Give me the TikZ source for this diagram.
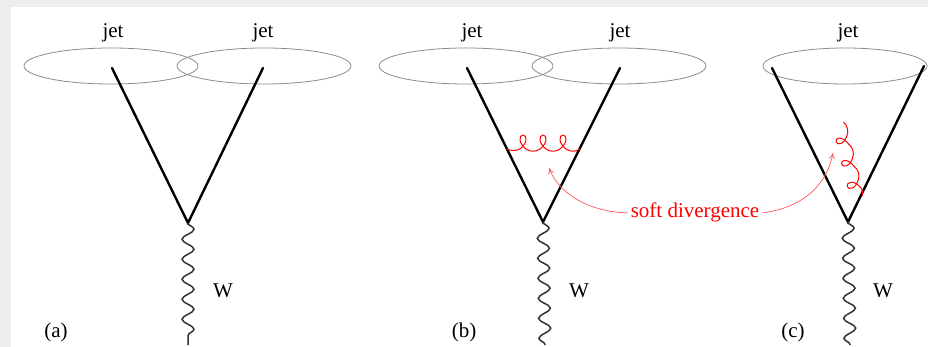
\documentclass[tikz,border=0pt]{standalone}
\usepackage{fontspec}
\setmainfont{Liberation Serif}
\usetikzlibrary{decorations.pathmorphing,arrows.meta}
\begin{document}
\begin{tikzpicture}[x=1pt,y=-1pt,
  quark/.style={line width=2.4pt, black, line cap=round},
  boson/.style={line width=1.5pt, black!80, decorate, decoration={snake, amplitude=6pt, segment length=20pt}},
  jetcone/.style={draw=black!45, line width=0.8pt},
  gluonline/.style={red, line width=1pt, line join=round},
  lbl/.style={font=\fontsize{21}{24}\selectfont, text=black, inner sep=0pt},
  note/.style={-{To[length=6pt,width=6pt]}, red!65, line width=0.7pt}
]
\fill[black!7] (0,0) rectangle (928,347);
\fill[white] (11,7) rectangle (928,347);
\useasboundingbox (0,0) rectangle (928,347);

% panel (a)
\draw[jetcone] (111,66) ellipse [x radius=87pt, y radius=18pt];
\draw[jetcone] (264,66) ellipse [x radius=87pt, y radius=18pt];
\node[lbl, anchor=base] (jetA1) at (113,38) {jet};
\node[lbl, anchor=base] (jetA2) at (263,38) {jet};
\coordinate (vA) at (188,223);
\coordinate (qA1) at (112,68);
\coordinate (qA2) at (263,68);
\coordinate (wA) at (188,345);
\draw[quark] (qA1) -- (vA) -- (qA2);
\draw[boson] (vA) -- (wA);
\node[lbl, anchor=base] (WA) at (223,297) {W};
\node[lbl, anchor=base] (labA) at (56,337) {(a)};

% panel (b)
\draw[jetcone] (466,66) ellipse [x radius=87pt, y radius=18pt];
\draw[jetcone] (619,66) ellipse [x radius=87pt, y radius=18pt];
\node[lbl, anchor=base] (jetB1) at (472,38) {jet};
\node[lbl, anchor=base] (jetB2) at (620,38) {jet};
\coordinate (vB) at (543,222);
\coordinate (qB1) at (467,68);
\coordinate (qB2) at (620,68);
\coordinate (wB) at (545,345);
\draw[quark] (qB1) -- (vB) -- (qB2);
\draw[boson] (vB) -- (wB);
\node[lbl, anchor=base] (WB) at (579,297) {W};
\node[lbl, anchor=base] (labB) at (464,337) {(b)};
\begin{scope}[shift={(507,149)}]
  \draw[gluonline] (0,0) .. controls (4,2) and (9,2) .. (13,0)
    \foreach \c in {16,36,56} { .. controls (\c+5,-6) and (\c+4,-14) .. (\c,-14)
      .. controls (\c-4,-14) and (\c-5,-6) .. (\c+3,0)
      .. controls (\c+7,3) and (\c+13,3) .. (\c+17,0) };
\end{scope}

% panel (c)
\draw[jetcone] (845,66) ellipse [x radius=82pt, y radius=18pt];
\node[lbl, anchor=base] (jetC) at (848,38) {jet};
\coordinate (vC) at (848,222);
\coordinate (qC1) at (772,68);
\coordinate (qC2) at (924,66);
\coordinate (wC) at (850,345);
\draw[quark] (qC1) -- (vC) -- (qC2);
\draw[boson] (vC) -- (wC);
\node[lbl, anchor=base] (WC) at (883,297) {W};
\node[lbl, anchor=base] (labC) at (793,337) {(c)};
\begin{scope}[shift={(862,196)}]
\begin{scope}[x={(-0.243pt,0.971pt)}, y={(0.971pt,0.243pt)}]
  \draw[gluonline] (0,0) .. controls (3,2) and (7,2) .. (10,0)
    \foreach \c in {13,36,59} { .. controls (\c+5,-5) and (\c+4,-12) .. (\c,-12)
      .. controls (\c-4,-12) and (\c-5,-5) .. (\c+3,0)
      .. controls (\c+7,3) and (\c+13,3) .. (\c+17,0) };
\end{scope}
\end{scope}

% annotation
\node[lbl, text=red, anchor=base, inner sep=3pt] (soft) at (695,218) {soft divergence};
\coordinate (tipB) at (549,168);
\coordinate (tipC) at (833,153);
\draw[note] (soft.west) .. controls (592,212) and (560,196) .. (tipB);
\draw[note] (soft.east) .. controls (800,208) and (826,188) .. (tipC);
\end{tikzpicture}
\end{document}
